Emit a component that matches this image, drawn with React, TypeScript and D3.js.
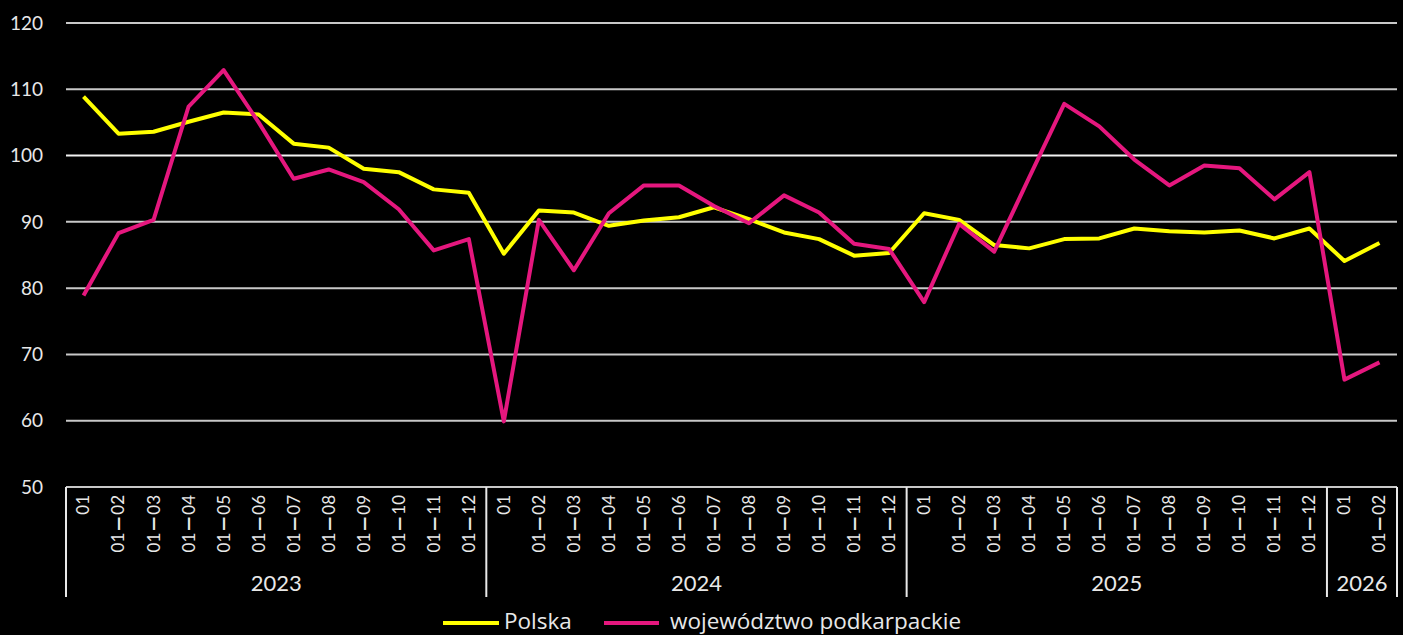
import React from "react";
import * as d3 from "d3";

const monthLabels: string[] = [
  "01", "01–02", "01–03", "01–04", "01–05", "01–06", "01–07", "01–08", "01–09", "01–10", "01–11", "01–12",
  "01", "01–02", "01–03", "01–04", "01–05", "01–06", "01–07", "01–08", "01–09", "01–10", "01–11", "01–12",
  "01", "01–02", "01–03", "01–04", "01–05", "01–06", "01–07", "01–08", "01–09", "01–10", "01–11", "01–12",
  "01", "01–02",
];
const years: string[] = ["2023", "2024", "2025", "2026"];
const yearCounts: number[] = [12, 12, 12, 2];

const polska: number[] = [
  108.9, 103.3, 103.6, 105.1, 106.5, 106.2, 101.8, 101.2, 98.0, 97.5, 94.9, 94.4,
  85.2, 91.7, 91.4, 89.4, 90.2, 90.7, 92.2, 90.4, 88.4, 87.4, 84.9, 85.3,
  91.3, 90.3, 86.5, 86.0, 87.4, 87.5, 89.0, 88.6, 88.4, 88.7, 87.5, 89.0,
  84.1, 86.8,
];
const podkarpackie: number[] = [
  78.9, 88.3, 90.3, 107.4, 112.9, 105.0, 96.5, 97.9, 96.0, 91.9, 85.7, 87.4,
  59.9, 90.3, 82.7, 91.3, 95.5, 95.5, 92.4, 89.8, 94.0, 91.4, 86.7, 85.9,
  77.9, 89.7, 85.5, 96.7, 107.8, 104.4, 99.4, 95.5, 98.5, 98.1, 93.4, 97.5,
  66.2, 68.8,
];
const yTicks: number[] = [50, 60, 70, 80, 90, 100, 110, 120];
const seriesNames: string[] = ["Polska", "województwo podkarpackie"];
const seriesColors: string[] = ["#ffff00", "#e5177e"];

const W = 1403;
const H = 635;
const FONT = "Lato, 'Noto Sans', sans-serif";
const LEGEND_FONT = "'Open Sans', 'Noto Sans', sans-serif";

function TickLabel({ label }: { label: string }) {
  const parts = label.split("–");
  if (parts.length === 1) return <>{label}</>;
  return (
    <>
      {parts[0]}
      <tspan fontSize={31} dy={3.9}>–</tspan>
      <tspan dy={-3.9}>{parts[1]}</tspan>
    </>
  );
}

export default function App() {
  const x = d3
    .scaleBand<number>()
    .domain(d3.range(monthLabels.length))
    .range([66, 1397])
    .paddingInner(0)
    .paddingOuter(0);
  const y = d3.scaleLinear().domain([50, 120]).range([487, 23]);
  const cx = (i: number) => (x(i) as number) + x.bandwidth() / 2;

  const line = d3
    .line<number>()
    .x((_, i) => cx(i))
    .y((d) => y(d));

  const bounds: number[] = [0];
  yearCounts.forEach((c, i) => bounds.push(bounds[i] + c));
  const edgeX = (idx: number) =>
    idx >= monthLabels.length ? 1397 : (x(idx) as number);

  const axisBottom = 597;

  return (
    <div style={{ position: "fixed", left: 0, top: 0 }}>
      <svg width={W} height={H} style={{ display: "block", background: "#000" }}>
        <rect x={0} y={0} width={W} height={H} fill="#000" />
        {yTicks.map((t) => (
          <line
            key={"g" + t}
            x1={66}
            x2={1397}
            y1={y(t)}
            y2={y(t)}
            stroke={t === 100 ? "#f2f2f2" : "#c8c8c8"}
            strokeWidth={2}
          />
        ))}
        {yTicks.map((t) => (
          <text
            key={"yl" + t}
            x={43}
            y={y(t)}
            dy="0.35em"
            textAnchor="end"
            fill="#e8e8e8"
            fontFamily={FONT}
            fontSize={19}
          >
            {t}
          </text>
        ))}
        {bounds.map((b, i) => (
          <line
            key={"s" + i}
            x1={edgeX(b)}
            x2={edgeX(b)}
            y1={y(50)}
            y2={axisBottom}
            stroke="#e8e8e8"
            strokeWidth={2}
          />
        ))}
        {monthLabels.map((m, i) => (
          <text
            key={"xl" + i}
            transform={`translate(${cx(i)},${495}) rotate(-90)`}
            dy="0.35em"
            textAnchor="end"
            fill="#e8e8e8"
            fontFamily={FONT}
            fontSize={17}
          >
            <TickLabel label={m} />
          </text>
        ))}
        {years.map((yr, i) => (
          <text
            key={"yr" + i}
            x={(edgeX(bounds[i]) + edgeX(bounds[i + 1])) / 2}
            y={583}
            dy="0.35em"
            textAnchor="middle"
            fill="#e8e8e8"
            fontFamily={FONT}
            fontSize={22}
          >
            {yr}
          </text>
        ))}
        <path d={line(polska) || ""} fill="none" stroke={seriesColors[0]} strokeWidth={4} strokeLinejoin="round" />
        <path d={line(podkarpackie) || ""} fill="none" stroke={seriesColors[1]} strokeWidth={4} strokeLinejoin="round" />
        <line x1={443} x2={499} y1={623} y2={623} stroke={seriesColors[0]} strokeWidth={4} />
        <text x={504} y={629} fill="#e8e8e8" fontFamily={LEGEND_FONT} fontSize={22.5}>
          {seriesNames[0]}
        </text>
        <line x1={604} x2={659} y1={623} y2={623} stroke={seriesColors[1]} strokeWidth={4} />
        <text x={670} y={629} fill="#e8e8e8" fontFamily={LEGEND_FONT} fontSize={22.5}>
          {seriesNames[1]}
        </text>
      </svg>
    </div>
  );
}
